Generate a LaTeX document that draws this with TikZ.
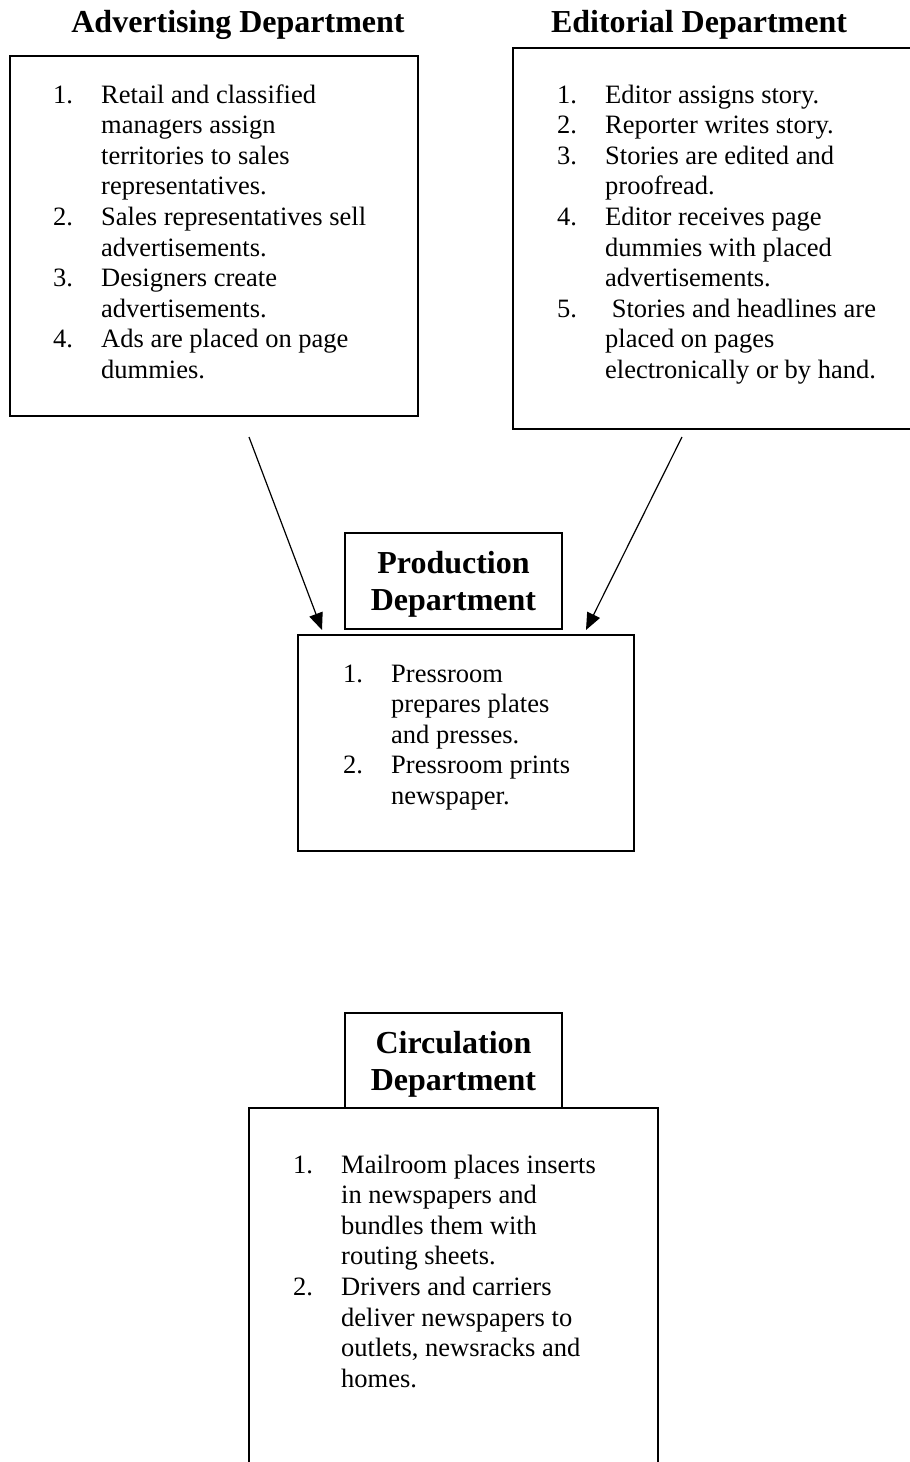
\documentclass[tikz,border=0pt]{standalone}
\usepackage{fontspec}
\setmainfont{Liberation Serif}
\usetikzlibrary{arrows.meta}
\newcommand{\itm}[1]{\makebox[48pt][l]{#1}}
\newcommand{\twoline}[2]{\begin{tabular}[t]{@{}c@{}}#1\\#2\end{tabular}}
\tikzset{
  frame/.style={line width=1.2pt, draw=black},
  body/.style={inner sep=0pt, anchor=base west, font=\fontsize{26.5}{30.6}\selectfont},
  head/.style={inner sep=0pt, anchor=base, font=\fontsize{32}{37.5}\selectfont\bfseries},
  flow/.style={line width=1.2pt, -{Triangle[length=17pt,width=14pt]}}
}
\begin{document}
\begin{tikzpicture}[x=1pt,y=-1pt]
\useasboundingbox (0,0) rectangle (910,1462);
\fill[white] (0,0) rectangle (910,1462);

% titles
\node[head] (adtitle) at (238,32) {Advertising Department};
\node[head] (edtitle) at (699,32) {Editorial Department};

% advertising box
\draw[frame] (10,56) rectangle (418,416);
\node[body] (adtext) at (53,103) {\begin{tabular}[t]{@{}l@{}}
\itm{1.}Retail and classified\\
\itm{}managers assign\\
\itm{}territories to sales\\
\itm{}representatives.\\
\itm{2.}Sales representatives sell\\
\itm{}advertisements.\\
\itm{3.}Designers create\\
\itm{}advertisements.\\
\itm{4.}Ads are placed on page\\
\itm{}dummies.
\end{tabular}};

% editorial box (right side runs off the page)
\draw[frame] (912,48) -- (513,48) -- (513,429) -- (912,429);
\node[body] (edtext) at (557,103) {\begin{tabular}[t]{@{}l@{}}
\itm{1.}Editor assigns story.\\
\itm{2.}Reporter writes story.\\
\itm{3.}Stories are edited and\\
\itm{}proofread.\\
\itm{4.}Editor receives page\\
\itm{}dummies with placed\\
\itm{}advertisements.\\
\itm{5.}\ Stories and headlines are\\
\itm{}placed on pages\\
\itm{}electronically or by hand.
\end{tabular}};

% production
\draw[frame] (345,533) rectangle (562,629);
\node[head] (prodtitle) at (453.5,573) {\twoline{Production}{Department}};
\draw[frame] (298,635) rectangle (634,851);
\node[body] (prodtext) at (343,682) {\begin{tabular}[t]{@{}l@{}}
\itm{1.}Pressroom\\
\itm{}prepares plates\\
\itm{}and presses.\\
\itm{2.}Pressroom prints\\
\itm{}newspaper.
\end{tabular}};

% circulation
\draw[frame] (345,1013) rectangle (562,1108);
\node[head] (circtitle) at (453.5,1053) {\twoline{Circulation}{Department}};
\draw[frame] (249,1464) -- (249,1108) -- (658,1108) -- (658,1464);
\node[body] (circtext) at (293,1173) {\begin{tabular}[t]{@{}l@{}}
\itm{1.}Mailroom places inserts\\
\itm{}in newspapers and\\
\itm{}bundles them with\\
\itm{}routing sheets.\\
\itm{2.}Drivers and carriers\\
\itm{}deliver newspapers to\\
\itm{}outlets, newsracks and\\
\itm{}homes.
\end{tabular}};

% arrows
\coordinate (a1s) at (249,437);
\coordinate (a1e) at (322,630);
\coordinate (a2s) at (682,437);
\coordinate (a2e) at (586,630);
\draw[flow] (a1s) -- (a1e);
\draw[flow] (a2s) -- (a2e);
\end{tikzpicture}
\end{document}
